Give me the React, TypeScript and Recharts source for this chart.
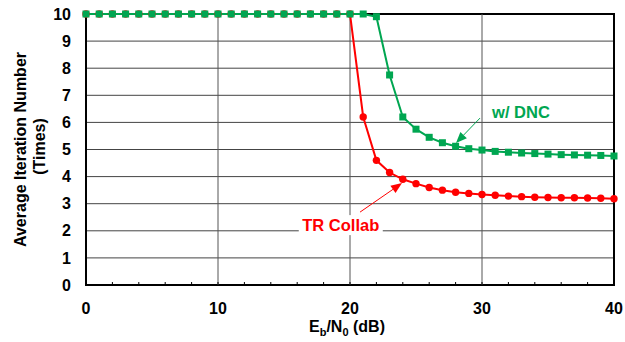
import React from 'react';
import {
  LineChart,
  Line,
  XAxis,
  YAxis,
  CartesianGrid,
  ReferenceLine,
  ReferenceArea,
  ReferenceDot,
} from 'recharts';

// Eb/N0 in dB
const ebn0 = [
  0, 1, 2, 3, 4, 5, 6, 7, 8, 9, 10, 11, 12, 13, 14, 15, 16, 17, 18, 19, 20,
  21, 22, 23, 24, 25, 26, 27, 28, 29, 30, 31, 32, 33, 34, 35, 36, 37, 38, 39, 40,
];

const trCollab = [
  10, 10, 10, 10, 10, 10, 10, 10, 10, 10, 10, 10, 10, 10, 10, 10, 10, 10, 10, 10, 10,
  6.2, 4.6, 4.15, 3.9, 3.74, 3.6, 3.5, 3.42, 3.38, 3.34, 3.31, 3.28, 3.26, 3.24, 3.23,
  3.22, 3.22, 3.21, 3.2, 3.18,
];

const withDnc = [
  10, 10, 10, 10, 10, 10, 10, 10, 10, 10, 10, 10, 10, 10, 10, 10, 10, 10, 10, 10, 10,
  10, 9.9, 7.75, 6.2, 5.75, 5.45, 5.25, 5.12, 5.03, 4.98, 4.93, 4.9, 4.87, 4.85, 4.83,
  4.81, 4.8, 4.79, 4.78, 4.76,
];

const xTicks = [0, 2, 4, 6, 8, 10, 12, 14, 16, 18, 20, 22, 24, 26, 28, 30, 32, 34, 36, 38, 40];
const xMajor = [10, 20, 30];
const yTicks = [0, 1, 2, 3, 4, 5, 6, 7, 8, 9, 10];

// annotation anchors, in data units
const dncText = { x: 32.95, y: 6.38, text: 'w/ DNC' };
const dncArrow = { from: { x: 29.85, y: 6.16 }, to: { x: 28.03, y: 5.24 } };
const trText = { x: 19.3, y: 2.21, text: 'TR Collab' };
const trArrow = { from: { x: 20.76, y: 2.69 }, to: { x: 23.94, y: 3.76 } };

const GREEN = '#00a651';
const RED = '#ff0000';
const FONT = '"Liberation Sans", Arial, sans-serif';

const data = ebn0.map((x, i) => ({ x, tr: trCollab[i], dnc: withDnc[i] }));

const XTick = ({ x, y, payload }: any) => {
  const v = payload.value;
  return (
    <g>
      <line x1={x} y1={y} x2={x} y2={y - 3} stroke="#000" strokeWidth={1} />
      {v % 10 === 0 && (
        <text x={x} y={y + 29} textAnchor="middle" fontFamily={FONT} fontWeight="bold" fontSize={16} fill="#000">
          {v}
        </text>
      )}
    </g>
  );
};

const XTitle = ({ viewBox }: any) => {
  const cx = viewBox.x + viewBox.width / 2 - 3;
  return (
    <text x={cx} y={332} textAnchor="middle" fontFamily={FONT} fontWeight="bold" fontSize={16} fill="#000">
      E<tspan fontSize={11} dy={4}>b</tspan>
      <tspan dy={-4}>/N</tspan>
      <tspan fontSize={11} dy={4}>0</tspan>
      <tspan dy={-4}> (dB)</tspan>
    </text>
  );
};

const YTitle = ({ viewBox }: any) => {
  const cy = viewBox.y + viewBox.height / 2;
  return (
    <g fontFamily={FONT} fontWeight="bold" fontSize={16} fill="#000">
      <text transform={`translate(26, ${cy}) rotate(-90)`} textAnchor="middle">
        Average Iteration Number
      </text>
      <text transform={`translate(45, ${cy - 3}) rotate(-90)`} textAnchor="middle">
        (Times)
      </text>
    </g>
  );
};

const SquareDot = (p: any) => (
  <rect key={`sq-${p.index}`} x={p.cx - 3.5} y={p.cy - 3.5} width={7} height={7} fill={GREEN} />
);

const arrowShape = (color: string) => (p: any) => {
  const { x1, y1, x2, y2 } = p;
  const a = Math.atan2(y2 - y1, x2 - x1);
  const len = 11;
  const half = 4.5;
  const bx = x2 - len * Math.cos(a);
  const by = y2 - len * Math.sin(a);
  const pts = [
    [x2, y2],
    [bx + half * Math.sin(a), by - half * Math.cos(a)],
    [bx - half * Math.sin(a), by + half * Math.cos(a)],
  ]
    .map((q) => q.join(','))
    .join(' ');
  return (
    <g>
      <line x1={x1} y1={y1} x2={bx} y2={by} stroke={color} strokeWidth={1} />
      <polygon points={pts} fill={color} />
    </g>
  );
};

const textShape = (text: string, color: string, box: boolean) => (p: any) => (
  <g>
    {box && <rect x={p.cx - 42} y={p.cy - 10} width={84} height={20} fill="#fff" />}
    <text x={p.cx} y={p.cy + 6} textAnchor="middle" fontFamily={FONT} fontWeight="bold" fontSize={16.5} fill={color}>
      {text}
    </text>
  </g>
);

export default function App() {
  return (
    <div style={{ position: 'absolute', left: 0, top: 0, background: '#fff' }}>
      <LineChart width={625} height={342} data={data} margin={{ top: 14, right: 11, left: 30, bottom: 0 }}>
        <CartesianGrid vertical={false} stroke="#444" strokeWidth={1} />
        <XAxis
          dataKey="x"
          type="number"
          domain={[0, 40]}
          ticks={xTicks}
          interval={0}
          height={57}
          tickSize={0}
          tickMargin={0}
          tickLine={false}
          axisLine={false}
          tick={<XTick />}
          label={{ content: <XTitle /> }}
        />
        <YAxis
          type="number"
          domain={[0, 10]}
          ticks={yTicks}
          interval={0}
          width={56}
          tickSize={0}
          tickMargin={15}
          tickLine={false}
          axisLine={false}
          tick={{ fontFamily: FONT, fontWeight: 'bold', fontSize: 16, fill: '#000' }}
          label={{ content: <YTitle /> }}
        />
        {xMajor.map((v) => (
          <ReferenceLine key={v} x={v} stroke="#555" strokeWidth={1} />
        ))}
        <ReferenceArea x1={0} x2={40} y1={0} y2={10} fill="none" stroke="#000" strokeWidth={2} />
        <Line
          dataKey="tr"
          stroke={RED}
          strokeWidth={2}
          dot={{ r: 3.7, fill: RED, stroke: RED, strokeWidth: 0 }}
          isAnimationActive={false}
        />
        <Line dataKey="dnc" stroke={GREEN} strokeWidth={2} dot={SquareDot} isAnimationActive={false} />
        <ReferenceLine
          segment={[dncArrow.from, dncArrow.to]}
          shape={arrowShape(GREEN)}
        />
        <ReferenceLine
          segment={[trArrow.from, trArrow.to]}
          shape={arrowShape(RED)}
        />
        <ReferenceDot x={dncText.x} y={dncText.y} shape={textShape(dncText.text, GREEN, false)} />
        <ReferenceDot x={trText.x} y={trText.y} shape={textShape(trText.text, RED, true)} />
      </LineChart>
    </div>
  );
}
